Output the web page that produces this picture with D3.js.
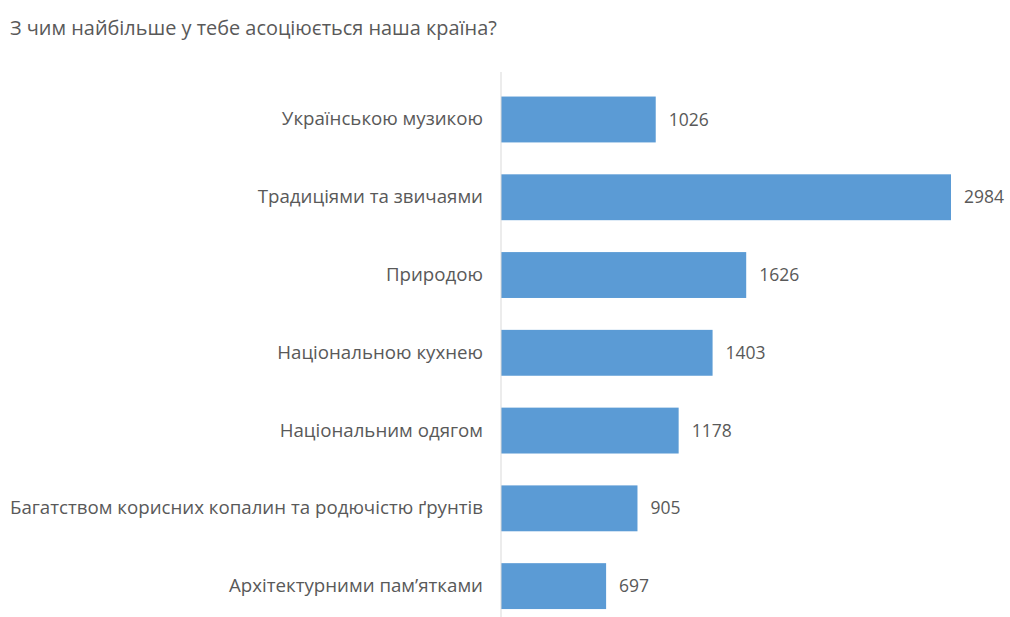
<!DOCTYPE html>
<html>
<head>
<meta charset="utf-8">
<script src="https://cdn.jsdelivr.net/npm/d3@7"></script>
<style>
  body { margin: 0; background: #fff; }
  text { font-family: "Open Sans", "Noto Sans", sans-serif; fill: #595959; }
</style>
</head>
<body>
<div id="chart"></div>
<script>
// data
var title = 'З чим найбільше у тебе асоціюється наша країна?';
var categories = [
  'Українською музикою',
  'Традиціями та звичаями',
  'Природою',
  'Національною кухнею',
  'Національним одягом',
  'Багатством корисних копалин та родючістю ґрунтів',
  'Архітектурними пам\u2019ятками'
];
var values = [1026, 2984, 1626, 1403, 1178, 905, 697];

var width = 1010, height = 617,
    axisX = 501;

var svg = d3.select('#chart')
  .append('svg')
  .attr('width', width)
  .attr('height', height);

var y = d3.scaleBand()
  .domain(categories)
  .range([80.6, 625])
  .paddingInner(0.41)
  .paddingOuter(0.205);

var x = d3.scaleLinear()
  .domain([0, 2984])
  .range([axisX, 951]);

// title
svg.append('text')
  .attr('x', 10)
  .attr('y', 35)
  .style('font-size', '19.9px')
  .text(title);

// bars
svg.selectAll('.bar')
  .data(values)
  .enter()
  .append('rect')
  .attr('class', 'bar')
  .attr('fill', '#5b9bd5')
  .attr('x', x(0))
  .attr('y', function(d, i){ return y(categories[i]); })
  .attr('width', function(d){ return x(d) - x(0); })
  .attr('height', y.bandwidth());

// value labels
svg.selectAll('.val')
  .data(values)
  .enter()
  .append('text')
  .attr('class', 'val')
  .attr('x', function(d){ return x(d) + 13; })
  .attr('y', function(d, i){ return y(categories[i]) + y.bandwidth() / 2; })
  .attr('dy', '0.35em')
  .style('font-size', '17.5px')
  .text(function(d){ return d; });

// category axis
var yAxis = d3.axisLeft(y).tickSize(0).tickPadding(18);
var g = svg.append('g')
  .attr('transform', 'translate(' + axisX + ',0)')
  .call(yAxis);
g.select('.domain').remove();
g.selectAll('text')
  .style('font-size', '18.7px')
  .attr('fill', null);

svg.append('line')
  .attr('x1', axisX).attr('x2', axisX)
  .attr('y1', 72).attr('y2', height)
  .attr('stroke', '#d9d9d9')
  .attr('stroke-width', 1);
</script>
</body>
</html>
